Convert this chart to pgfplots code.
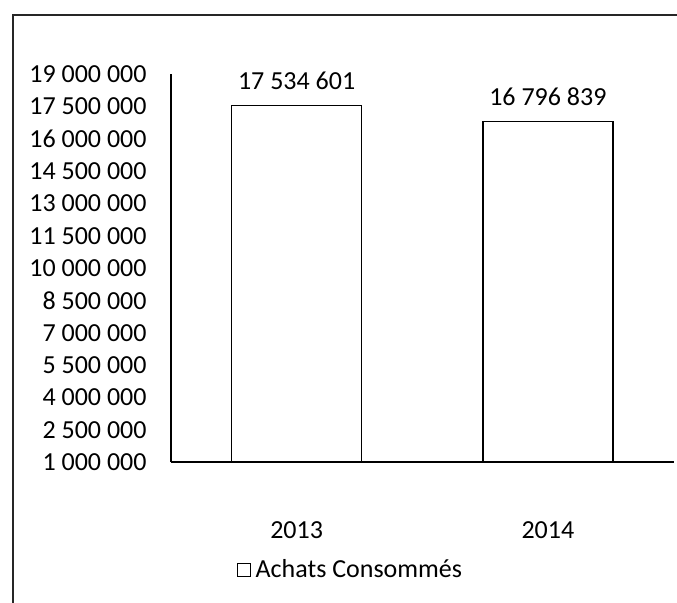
\documentclass[border=0pt]{standalone}
\usepackage{pgfplots}
\pgfplotsset{compat=1.18}
\usepackage{fontspec}
\setmainfont{Carlito}
\begin{document}
\begin{tikzpicture}[font=\fontsize{13bp}{15.6bp}\selectfont]
\useasboundingbox (0,0) rectangle (338.5bp,301.5bp);
\draw[line width=0.9bp, black!85] (6.5bp,-2bp) -- (6.5bp,294bp) -- (345bp,294bp);
\begin{axis}[
  at={(85.5bp,70.5bp)}, anchor=south west,
  scale only axis, width=251.25bp, height=194bp,
  xmin=-0.5, xmax=1.5, ymin=1000000, ymax=19000000,
  axis lines*=left,
  axis line style={line width=0.7bp, black},
  ybar, bar width=65bp,
  xtick={0,1}, xticklabels={2013,2014},
  ytick={1000000,2500000,4000000,5500000,7000000,8500000,10000000,11500000,13000000,14500000,16000000,17500000,19000000},
  major tick length=0pt,
  scaled y ticks=false,
  /pgf/number format/fixed,
  /pgf/number format/precision=0,
  /pgf/number format/1000 sep={\ },
  /pgf/number format/assume math mode=true,
  yticklabel style={xshift=-8.7bp},
  xticklabel style={anchor=center, yshift=-34bp},
  point meta=explicit symbolic,
  nodes near coords,
  nodes near coords style={anchor=center, yshift=12.5bp, font=\fontsize{13bp}{15.6bp}\selectfont},
  clip=false,
  legend style={at={(axis description cs:0.36,-0.278)}, anchor=center, draw=none, fill=none, font=\fontsize{13bp}{15.6bp}\selectfont,
    nodes={inner xsep=2.5bp}},
  legend image code/.code={\draw[#1, line width=0.5bp] (0bp,-3.2bp) rectangle (6.5bp,3.2bp);},
]
\addplot[draw=black, fill=white, line width=0.7bp] coordinates {(0,17534601) [17 534 601] (1,16796839) [16 796 839]};
\addlegendentry{Achats Consommés}
\end{axis}
\end{tikzpicture}
\end{document}
